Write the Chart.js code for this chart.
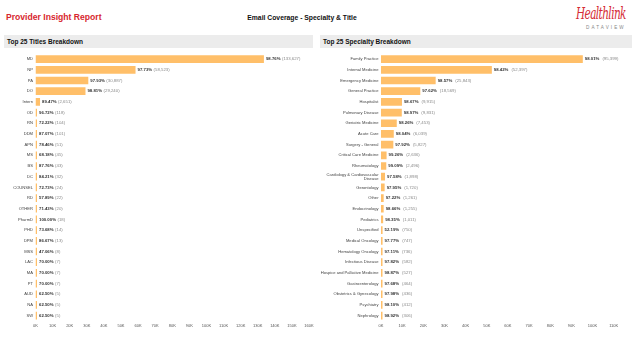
<!DOCTYPE html>
<html>
<head>
<meta charset="utf-8">
<script src="https://cdn.jsdelivr.net/npm/chart.js@4.4.3/dist/chart.umd.min.js"></script>
<style>
  body { margin:0; width:637px; height:337px; background:#fff; position:relative; overflow:hidden; font-family:'Liberation Sans', Arial, sans-serif; }
  .abs { position:absolute; }
  #title { left:6px; top:12px; font-size:8.6px; font-weight:bold; color:#d7262e; }
  #sub { left:240px; top:14px; width:124px; text-align:center; font-size:6.8px; font-weight:bold; color:#111; white-space:nowrap; }
  #logo1 { left:576px; top:3px; font-family:'DejaVu Serif', serif; font-style:italic; font-size:10.5px; color:#d52b35; letter-spacing:-0.6px; transform:scale(1,1.6); transform-origin:left top; }
  #logo2 { left:586px; top:25px; font-size:4.6px; color:#888; letter-spacing:2.1px; }
  .ph { top:35px; height:13px; background:#ececec; font-size:6.5px; font-weight:bold; color:#111; line-height:13px; padding-left:3px; box-sizing:border-box; }
  canvas { position:absolute; }
</style>
</head>
<body>
<div id="title" class="abs">Provider Insight Report</div>
<div id="sub" class="abs">Email Coverage - Specialty &amp; Title</div>
<div id="logo1" class="abs">Healthlink</div>
<div id="logo2" class="abs">DATAVIEW</div>
<div class="abs ph" style="left:4px;width:309px">Top 25 Titles Breakdown</div>
<div class="abs ph" style="left:320px;width:312px">Top 25 Specialty Breakdown</div>
<canvas id="left" width="320" height="285" style="left:0;top:49px"></canvas>
<canvas id="right" width="319" height="285" style="left:318px;top:49px"></canvas>
<script>
// titles
const titleLabels = ['MD','NP','PA','DO','Intern','OD','RN','DDM','APN','MS','BS','DC','COUNSEL','RD','OTHER','PharmD','PHD','DPM','MSS','LAC','MA','PT','AUD','NA','SW'];
const titleCounts = [133627,58523,30887,29240,2651,118,104,101,51,45,43,32,24,22,20,18,14,13,8,7,7,7,5,5,5];
const titlePct = [98.76,97.73,97.93,98.81,89.47,96.72,72.22,87.07,78.46,68.18,87.76,84.21,72.73,57.89,71.43,100.00,73.68,86.67,47.06,70.00,70.00,70.00,62.50,62.50,62.50];

// specialties
const specLabels = ['Family Practice','Internal Medicine','Emergency Medicine','General Practice','Hospitalist','Pulmonary Disease','Geriatric Medicine','Acute Care','Surgery - General','Critical Care Medicine','Rheumatology',['Cardiology & Cardiovascular','Disease'],'Gerontology','Other','Endocrinology','Pediatrics','Unspecified','Medical Oncology','Hematology Oncology','Infectious Disease','Hospice and Palliative Medicine','Gastroenterology','Obstetrics & Gynecology','Psychiatry','Nephrology'];
const specCounts = [95399,52397,25843,18569,9915,9831,7453,6039,5827,2636,2496,1898,1720,1261,1255,1011,750,747,736,582,527,464,436,412,306];
const specPct = [98.01,98.42,98.57,97.62,98.67,98.97,98.26,98.04,97.92,99.26,99.09,97.58,97.95,97.22,98.66,98.35,52.19,97.77,97.11,97.82,98.87,97.68,97.98,98.10,98.92];

const FONT = "'Liberation Sans', Arial, sans-serif";
const BAR = '#ffbf69';

// draw "98.76% (133,627)" after every bar
const valueLabels = {
  id: 'valueLabels',
  afterDatasetsDraw(chart, args, opts) {
    const ctx = chart.ctx;
    const meta = chart.getDatasetMeta(0);
    ctx.save();
    ctx.textBaseline = 'middle';
    meta.data.forEach((bar, i) => {
      const p = opts.pct[i].toFixed(2) + '%';
      const c = '(' + opts.counts[i].toLocaleString('en-US') + ')';
      let x = bar.x + 2;
      ctx.font = 'bold 4.3px ' + FONT;
      ctx.fillStyle = '#333';
      ctx.fillText(p, x, bar.y);
      x += ctx.measureText(p).width + opts.gap;
      ctx.font = '4.3px ' + FONT;
      ctx.fillStyle = '#888';
      ctx.fillText(c, x, bar.y);
    });
    ctx.restore();
  }
};

function makeChart(id, labels, counts, pct, max, yWidth, padRight, gap) {
  return new Chart(document.getElementById(id), {
    type: 'bar',
    data: {
      labels: labels,
      datasets: [{ data: counts, backgroundColor: BAR, borderWidth: 0, barPercentage: 0.72, categoryPercentage: 1, minBarLength: 1.5 }]
    },
    options: {
      indexAxis: 'y',
      responsive: false,
      animation: false,
      devicePixelRatio: 1,
      layout: { padding: { top: 0.6, right: padRight, left: 0, bottom: 0 } },
      plugins: {
        legend: { display: false },
        tooltip: { enabled: false },
        valueLabels: { pct: pct, counts: counts, gap: gap }
      },
      scales: {
        x: {
          min: 0, max: max,
          grid: { display: false, drawTicks: false },
          border: { display: false },
          ticks: { stepSize: 10000, padding: 2.5, color: '#555', font: { size: 4, family: FONT }, maxRotation: 0, autoSkip: false,
                   callback: v => (v / 1000) + 'K' },
          afterFit: s => { s.height = 13; }
        },
        y: {
          grid: { display: false, drawTicks: false },
          border: { display: false },
          ticks: { padding: 2.5, color: '#444', font: { size: 4.1, family: FONT, lineHeight: 1.1 }, autoSkip: false },
          afterFit: s => { s.width = yWidth; }
        }
      }
    },
    plugins: [valueLabels]
  });
}

makeChart('left', titleLabels, titleCounts, titlePct, 160000, 35.5, 11, 1.5);
makeChart('right', specLabels, specCounts, specPct, 110000, 63, 23.3, 3);
</script>
</body>
</html>
